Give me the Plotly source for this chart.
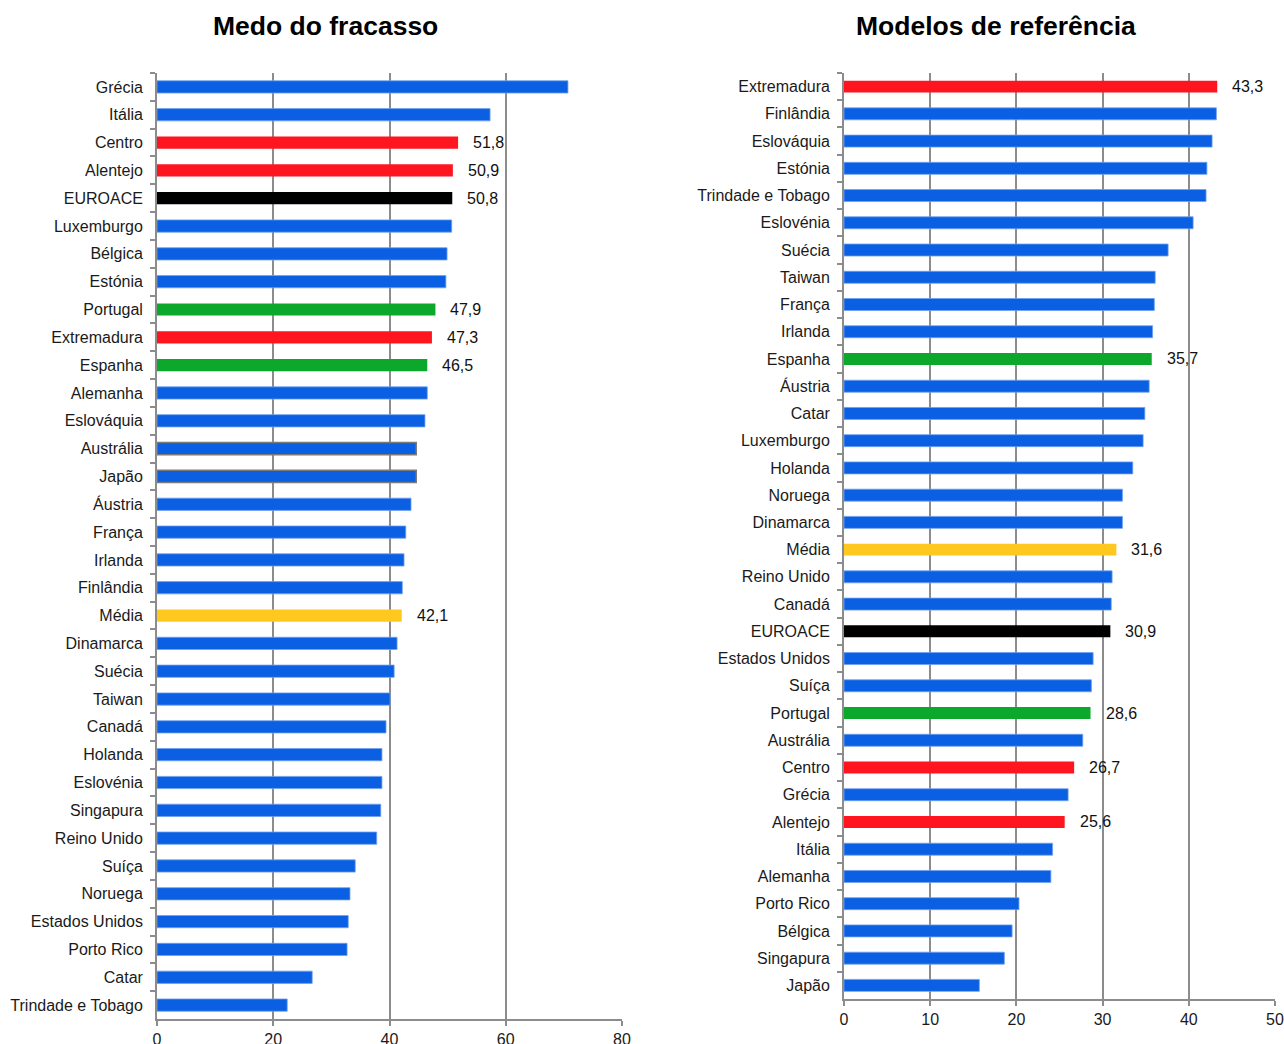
import plotly.graph_objects as go

# Medo do fracasso (left panel)
medo_paises = [
    'Grécia', 'Itália', 'Centro', 'Alentejo', 'EUROACE', 'Luxemburgo', 'Bélgica',
    'Estónia', 'Portugal', 'Extremadura', 'Espanha', 'Alemanha', 'Eslováquia',
    'Austrália', 'Japão', 'Áustria', 'França', 'Irlanda', 'Finlândia', 'Média',
    'Dinamarca', 'Suécia', 'Taiwan', 'Canadá', 'Holanda', 'Eslovénia', 'Singapura',
    'Reino Unido', 'Suíça', 'Noruega', 'Estados Unidos', 'Porto Rico', 'Catar',
    'Trindade e Tobago',
]
medo_valores = [
    70.7, 57.3, 51.8, 50.9, 50.8, 50.7, 49.9, 49.7, 47.9, 47.3, 46.5, 46.5, 46.1,
    44.6, 44.6, 43.7, 42.8, 42.5, 42.2, 42.1, 41.3, 40.8, 40.1, 39.4, 38.7, 38.7,
    38.5, 37.8, 34.1, 33.2, 32.9, 32.7, 26.7, 22.4,
]

# Modelos de referência (right panel)
modelos_paises = [
    'Extremadura', 'Finlândia', 'Eslováquia', 'Estónia', 'Trindade e Tobago',
    'Eslovénia', 'Suécia', 'Taiwan', 'França', 'Irlanda', 'Espanha', 'Áustria',
    'Catar', 'Luxemburgo', 'Holanda', 'Noruega', 'Dinamarca', 'Média',
    'Reino Unido', 'Canadá', 'EUROACE', 'Estados Unidos', 'Suíça', 'Portugal',
    'Austrália', 'Centro', 'Grécia', 'Alentejo', 'Itália', 'Alemanha',
    'Porto Rico', 'Bélgica', 'Singapura', 'Japão',
]
modelos_valores = [
    43.3, 43.2, 42.7, 42.1, 42.0, 40.5, 37.6, 36.1, 36.0, 35.8, 35.7, 35.4, 34.9,
    34.7, 33.5, 32.3, 32.3, 31.6, 31.1, 31.0, 30.9, 28.9, 28.7, 28.6, 27.7, 26.7,
    26.0, 25.6, 24.2, 24.0, 20.3, 19.5, 18.6, 15.7,
]

destaques = ['Centro', 'Alentejo', 'EUROACE', 'Portugal', 'Extremadura', 'Espanha', 'Média']

BLUE = '#0a5fe3'
cores = {
    'Centro': '#ff1520', 'Alentejo': '#ff1520', 'Extremadura': '#ff1520',
    'EUROACE': '#000000', 'Portugal': '#0ca82c', 'Espanha': '#0ca82c',
    'Média': '#ffc81f',
}


def bar_style(paises, contorno_cinza=()):
    colors, lcolors, lwidths = [], [], []
    for p in paises:
        c = cores.get(p, BLUE)
        colors.append(c)
        if p in contorno_cinza:
            lcolors.append('#7a7a7a')
            lwidths.append(1.5)
        elif c == BLUE:
            lcolors.append('#6fa0f0')
            lwidths.append(0.8)
        else:
            lcolors.append(c)
            lwidths.append(0)
    return colors, lcolors, lwidths


fig = go.Figure()

c1, lc1, lw1 = bar_style(medo_paises, contorno_cinza=('Austrália', 'Japão'))
fig.add_trace(go.Bar(
    y=medo_paises, x=medo_valores, orientation='h',
    marker=dict(color=c1, line=dict(color=lc1, width=lw1)),
    xaxis='x', yaxis='y', showlegend=False,
))

c2, lc2, lw2 = bar_style(modelos_paises)
fig.add_trace(go.Bar(
    y=modelos_paises, x=modelos_valores, orientation='h',
    marker=dict(color=c2, line=dict(color=lc2, width=lw2)),
    xaxis='x2', yaxis='y2', showlegend=False,
))

annotations = []
for paises, valores, xr, yr in [(medo_paises, medo_valores, 'x', 'y'),
                                (modelos_paises, modelos_valores, 'x2', 'y2')]:
    for p, v in zip(paises, valores):
        if p in destaques:
            annotations.append(dict(
                x=v, y=p, xref=xr, yref=yr, text=f'{v:.1f}'.replace('.', ','),
                showarrow=False, xanchor='left', xshift=13,
                font=dict(size=16, color='#111'),
            ))

annotations += [
    dict(x=326 / 1284, y=1 - 26 / 1044, xref='paper', yref='paper',
         text='<b>Medo do fracasso</b>', showarrow=False,
         font=dict(size=26.5, color='#000'), xanchor='center', yanchor='middle'),
    dict(x=996 / 1284, y=1 - 26 / 1044, xref='paper', yref='paper',
         text='<b>Modelos de referência</b>', showarrow=False,
         font=dict(size=26.5, color='#000'), xanchor='center', yanchor='middle'),
]

axis_common = dict(
    showline=True, linecolor='#8c8c8c', linewidth=2,
    ticks='outside', ticklen=5, tickcolor='#8c8c8c', tickwidth=2,
    tickfont=dict(size=16, color='#1a1a1a'), automargin=False,
)

fig.update_layout(
    width=1284, height=1044,
    margin=dict(l=0, r=0, t=0, b=0),
    paper_bgcolor='white', plot_bgcolor='white',
    font=dict(family='Liberation Sans, Arial, sans-serif'),
    bargap=0.56,
    annotations=annotations,
    xaxis=dict(domain=[157 / 1284, 622 / 1284], range=[0, 80], dtick=20,
               showgrid=True, gridcolor='#8c8c8c', gridwidth=2, zeroline=False,
               anchor='y', **axis_common),
    yaxis=dict(domain=[1 - 1019 / 1044, 1 - 73 / 1044], autorange='reversed',
               type='category', tickson='boundaries', showgrid=False,
               anchor='x', ticksuffix='  ', **axis_common),
    xaxis2=dict(domain=[844 / 1284, 1275 / 1284], range=[0, 50], dtick=10,
                showgrid=True, gridcolor='#8c8c8c', gridwidth=2, zeroline=False,
                anchor='y2', **axis_common),
    yaxis2=dict(domain=[1 - 999 / 1044, 1 - 73 / 1044], autorange='reversed',
                type='category', tickson='boundaries', showgrid=False,
                anchor='x2', ticksuffix='  ', **axis_common),
)

# the page body has a default 8px margin; remove it so the chart sits at 0,0
fig.write_html('out.html', config={'displayModeBar': False},
               post_script="document.body.style.margin='0px';")
